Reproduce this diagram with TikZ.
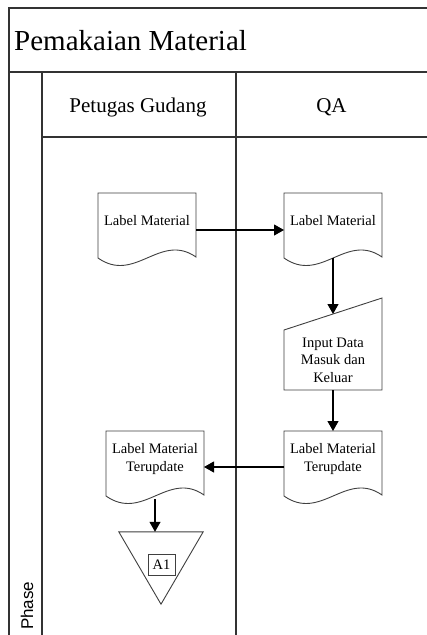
\documentclass[tikz,border=0pt]{standalone}
\usepackage{fontspec}
\setmainfont{Liberation Serif}
\newfontfamily\phasefont{Liberation Sans}
\usetikzlibrary{arrows.meta,calc}
\newcommand\docshape[1]{\draw[shapeline] ($(#1.center)+(-49,-28)$) -- ($(#1.center)+(49,-28)$) -- ($(#1.center)+(49,36)$) .. controls ($(#1.center)+(13,11)$) and ($(#1.center)+(-12,63)$) .. ($(#1.center)+(-49,37)$) -- cycle;}
\begin{document}
\begin{tikzpicture}[x=1pt,y=-1pt,
  frame/.style={draw=black!80,line width=1.3pt},
  shapeline/.style={draw=black!75,line width=0.9pt},
  flow/.style={draw=black,line width=1.1pt,-{Triangle[length=10pt,width=11pt]}},
  doctext/.style={font=\fontsize{14.5}{17.5}\selectfont,align=center,inner sep=0pt},
  lanetext/.style={font=\fontsize{21}{24}\selectfont,inner sep=0pt,anchor=base},
  ]
\useasboundingbox (0,0) rectangle (427,635);
\fill[white] (0,0) rectangle (427,635);
% swimlane frame
\draw[frame] (427,8) -- (9,8) -- (9,635);
\draw[frame] (9,72) -- (427,72);
\draw[frame] (42,72) -- (42,635);
\draw[frame] (42,137) -- (427,137);
\draw[frame] (236,72) -- (236,635);
% headers
\node[anchor=base west,font=\fontsize{29}{32}\selectfont,inner sep=0pt] (title) at (14,50) {Pemakaian Material};
\node[lanetext] (lane1) at (138,112) {Petugas Gudang};
\node[lanetext] (lane2) at (331.5,112) {QA};
\node[anchor=base west,rotate=90,font=\phasefont\fontsize{17}{20}\selectfont,inner sep=0pt] (phase) at (33,630) {Phase};
% documents
\node[doctext] (d1) at (147,221) {Label Material};
\node[doctext] (d2) at (333,221) {Label Material};
\node[doctext] (d3) at (333,459) {Label Material\\Terupdate};
\node[doctext] (d4) at (155,459) {Label Material\\Terupdate};
\docshape{d1}
\docshape{d2}
\docshape{d3}
\docshape{d4}
% manual input
\node[doctext] (mi) at (333,360) {Input Data\\Masuk dan\\Keluar};
\draw[shapeline] ($(mi.center)+(-49,-30)$) -- ($(mi.center)+(49,-62)$) -- ($(mi.center)+(49,30)$) -- ($(mi.center)+(-49,30)$) -- cycle;
% off-page connector
\node[inner sep=0pt,minimum width=84pt,minimum height=72pt] (tri) at (161,568) {};
\draw[shapeline] (tri.north west) -- (tri.north east) -- (tri.south) -- cycle;
\node[draw=black!75,line width=0.9pt,font=\fontsize{14.5}{16}\selectfont,minimum width=27pt,minimum height=21pt,inner sep=1pt] (a1) at (161.5,564.5) {A1};
% connector end points
\coordinate (d1r) at ($(d1.center)+(49,9)$);
\coordinate (d2l) at ($(d2.center)+(-49,9)$);
\coordinate (d2b) at ($(d2.center)+(0,37)$);
\coordinate (mit) at ($(mi.center)+(0,-46)$);
\coordinate (mib) at ($(mi.center)+(0,30)$);
\coordinate (d3t) at ($(d3.center)+(0,-28)$);
\coordinate (d3l) at ($(d3.center)+(-49,8)$);
\coordinate (d4r) at ($(d4.center)+(49,8)$);
\coordinate (d4b) at ($(d4.center)+(0,40)$);
\draw[flow] (d1r) -- (d2l);
\draw[flow] (d2b) -- (mit);
\draw[flow] (mib) -- (d3t);
\draw[flow] (d3l) -- (d4r);
\draw[flow] (d4b) -- (d4b |- tri.north);
\end{tikzpicture}
\end{document}
